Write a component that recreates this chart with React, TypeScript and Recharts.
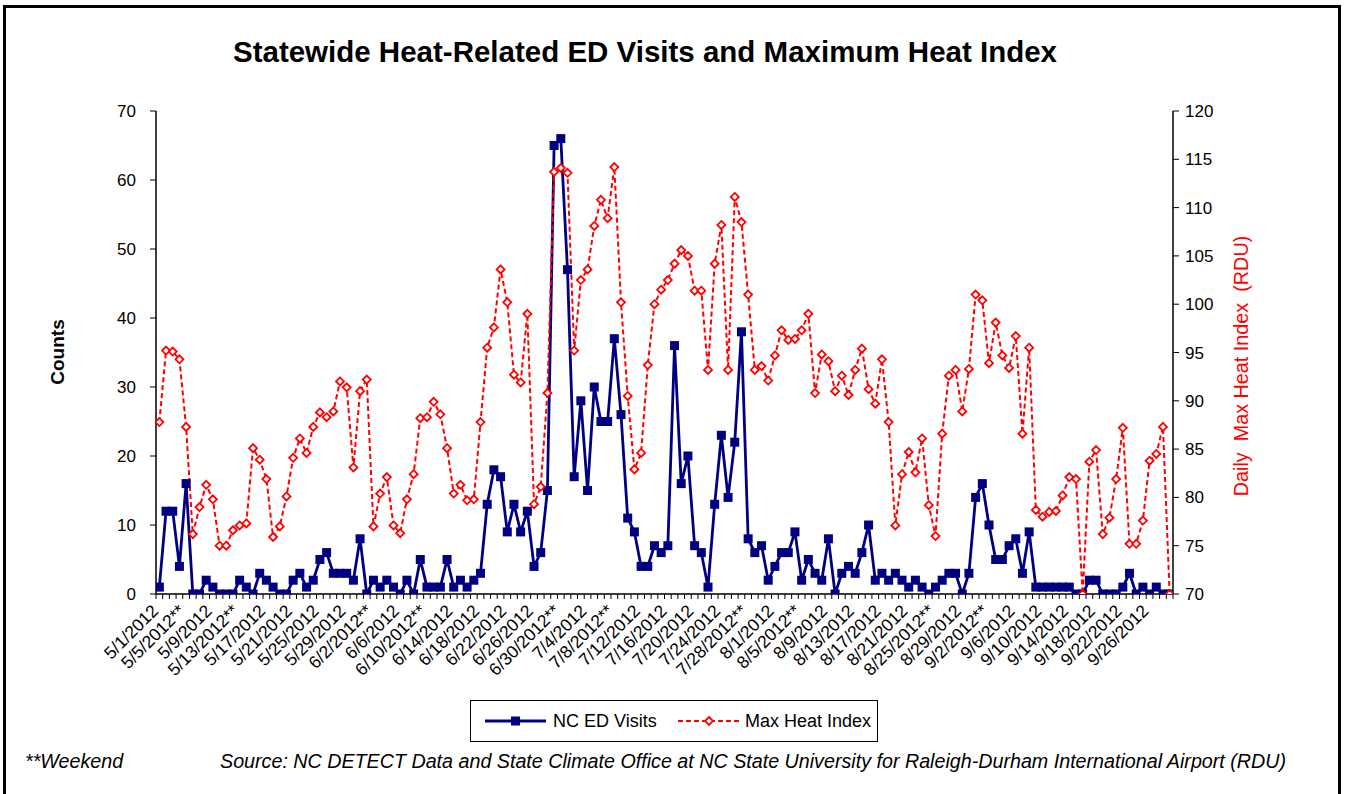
import React from "react";
import { LineChart, Line, XAxis, YAxis } from "recharts";

const categories: string[] = [
  "5/1/2012","5/2/2012","5/3/2012","5/4/2012","5/5/2012**","5/6/2012**","5/7/2012","5/8/2012","5/9/2012","5/10/2012",
  "5/11/2012","5/12/2012**","5/13/2012**","5/14/2012","5/15/2012","5/16/2012","5/17/2012","5/18/2012","5/19/2012**","5/20/2012**",
  "5/21/2012","5/22/2012","5/23/2012","5/24/2012","5/25/2012","5/26/2012**","5/27/2012**","5/28/2012","5/29/2012","5/30/2012",
  "5/31/2012","6/1/2012","6/2/2012**","6/3/2012**","6/4/2012","6/5/2012","6/6/2012","6/7/2012","6/8/2012","6/9/2012**",
  "6/10/2012**","6/11/2012","6/12/2012","6/13/2012","6/14/2012","6/15/2012","6/16/2012**","6/17/2012**","6/18/2012","6/19/2012",
  "6/20/2012","6/21/2012","6/22/2012","6/23/2012**","6/24/2012**","6/25/2012","6/26/2012","6/27/2012","6/28/2012","6/29/2012",
  "6/30/2012**","7/1/2012**","7/2/2012","7/3/2012","7/4/2012","7/5/2012","7/6/2012","7/7/2012**","7/8/2012**","7/9/2012",
  "7/10/2012","7/11/2012","7/12/2012","7/13/2012","7/14/2012**","7/15/2012**","7/16/2012","7/17/2012","7/18/2012","7/19/2012",
  "7/20/2012","7/21/2012**","7/22/2012**","7/23/2012","7/24/2012","7/25/2012","7/26/2012","7/27/2012","7/28/2012**","7/29/2012**",
  "7/30/2012","7/31/2012","8/1/2012","8/2/2012","8/3/2012","8/4/2012**","8/5/2012**","8/6/2012","8/7/2012","8/8/2012",
  "8/9/2012","8/10/2012","8/11/2012**","8/12/2012**","8/13/2012","8/14/2012","8/15/2012","8/16/2012","8/17/2012","8/18/2012**",
  "8/19/2012**","8/20/2012","8/21/2012","8/22/2012","8/23/2012","8/24/2012","8/25/2012**","8/26/2012**","8/27/2012","8/28/2012",
  "8/29/2012","8/30/2012","8/31/2012","9/1/2012**","9/2/2012**","9/3/2012","9/4/2012","9/5/2012","9/6/2012","9/7/2012",
  "9/8/2012**","9/9/2012**","9/10/2012","9/11/2012","9/12/2012","9/13/2012","9/14/2012","9/15/2012**","9/16/2012**","9/17/2012",
  "9/18/2012","9/19/2012","9/20/2012","9/21/2012","9/22/2012","9/23/2012","9/24/2012","9/25/2012","9/26/2012","9/27/2012",
  "9/28/2012","9/29/2012"
];

const edVisits: number[] = [
  1, 12, 12, 4, 16, 0, 0, 2, 1, 0,
  0, 0, 2, 1, 0, 3, 2, 1, 0, 0,
  2, 3, 1, 2, 5, 6, 3, 3, 3, 2,
  8, 0, 2, 1, 2, 1, 0, 2, 0, 5,
  1, 1, 1, 5, 1, 2, 1, 2, 3, 13,
  18, 17, 9, 13, 9, 12, 4, 6, 15, 65,
  66, 47, 17, 28, 15, 30, 25, 25, 37, 26,
  11, 9, 4, 4, 7, 6, 7, 36, 16, 20,
  7, 6, 1, 13, 23, 14, 22, 38, 8, 6,
  7, 2, 4, 6, 6, 9, 2, 5, 3, 2,
  8, 0, 3, 4, 3, 6, 10, 2, 3, 2,
  3, 2, 1, 2, 1, 0, 1, 2, 3, 3,
  0, 3, 14, 16, 10, 5, 5, 7, 8, 3,
  9, 1, 1, 1, 1, 1, 1, 0, 0, 2,
  2, 0, 0, 0, 1, 3, 0, 1, 0, 1,
  0, 0
];

const maxHeatIndex: number[] = [
  87.8, 95.2, 95.1, 94.3, 87.3, 76.2, 79.0, 81.3, 79.8, 75.0,
  75.0, 76.6, 77.1, 77.3, 85.1, 83.9, 81.9, 75.9, 77.0, 80.1,
  84.1, 86.1, 84.6, 87.3, 88.8, 88.3, 88.9, 92.0, 91.4, 83.1,
  91.0, 92.2, 77.0, 80.4, 82.1, 77.1, 76.3, 79.8, 82.4, 88.2,
  88.3, 89.9, 88.6, 85.1, 80.4, 81.3, 79.7, 79.8, 87.8, 95.5,
  97.6, 103.6, 100.2, 92.7, 91.9, 99.0, 79.3, 81.1, 90.8, 113.7,
  114.1, 113.6, 95.2, 102.5, 103.6, 108.1, 110.8, 108.9, 114.2, 100.2,
  90.5, 82.9, 84.6, 93.7, 100.0, 101.5, 102.5, 104.2, 105.6, 105.0,
  101.4, 101.4, 93.2, 104.2, 108.2, 93.2, 111.1, 108.5, 101.0, 93.2,
  93.6, 92.1, 94.7, 97.3, 96.3, 96.4, 97.3, 99.0, 90.8, 94.8,
  94.1, 91.0, 92.6, 90.6, 93.2, 95.4, 91.2, 89.7, 94.3, 87.8,
  77.1, 82.4, 84.7, 82.6, 86.1, 79.2, 76.0, 86.6, 92.6, 93.2,
  88.9, 93.3, 101.0, 100.4, 93.9, 98.1, 94.7, 93.4, 96.7, 86.6,
  95.5, 78.7, 78.0, 78.5, 78.6, 80.2, 82.1, 81.9, 70.0, 83.7,
  84.9, 76.2, 77.9, 81.9, 87.2, 75.2, 75.2, 77.6, 83.8, 84.5,
  87.3, 70.0
];

const countTicks: number[] = [0, 10, 20, 30, 40, 50, 60, 70];
const heatTicks: number[] = [70, 75, 80, 85, 90, 95, 100, 105, 110, 115, 120];
const labelEvery = 4;

const data = categories.map((date, idx) => ({
  idx,
  date,
  visits: edVisits[idx],
  heat: maxHeatIndex[idx],
}));
const indexTicks = categories.map((_, i) => i);

const FONT = '"Liberation Sans", Arial, Helvetica, sans-serif';
const NAVY = "#000080";
const RED = "#FF0000";

const PLOT_LEFT = 156;
const PLOT_RIGHT = 1173;
const PLOT_TOP = 111;
const PLOT_BOTTOM = 594;
const HALF_BAND = (PLOT_RIGHT - PLOT_LEFT) / categories.length / 2;

const SquareDot = (props: any) => {
  const { cx, cy } = props;
  if (cx == null || cy == null) return null;
  return <rect x={cx - 4.5} y={cy - 4.5} width={9} height={9} fill={NAVY} stroke="none" />;
};

const DiamondDot = (props: any) => {
  const { cx, cy } = props;
  if (cx == null || cy == null) return null;
  const r = 4;
  return (
    <path
      d={`M${cx},${cy - r} L${cx + r},${cy} L${cx},${cy + r} L${cx - r},${cy} Z`}
      fill="#fff"
      stroke={RED}
      strokeWidth={1.8}
    />
  );
};

const XTick = (props: any) => {
  const { x, y, payload } = props;
  const i = payload.value as number;
  const label = categories[i];
  const tx = x;
  const ty = y + 18;
  return (
    <g>
      <line x1={x - HALF_BAND} x2={x - HALF_BAND} y1={y} y2={y + 5} stroke="#000" strokeWidth={1} />
      {i === categories.length - 1 && (
        <line x1={x + HALF_BAND} x2={x + HALF_BAND} y1={y} y2={y + 5} stroke="#000" strokeWidth={1} />
      )}
      {i % labelEvery === 0 && (
        <text
          x={tx}
          y={ty}
          textAnchor="end"
          transform={`rotate(-45, ${tx}, ${ty})`}
          fontSize={17.5}
          fontFamily={FONT}
          fill="#000"
        >
          {label}
        </text>
      )}
    </g>
  );
};

export default function App() {
  return (
    <div
      style={{
        position: "absolute",
        left: 0,
        top: 0,
        width: 1346,
        height: 794,
        background: "#fff",
        overflow: "hidden",
        fontFamily: FONT,
      }}
    >
      <div
        style={{
          position: "absolute",
          left: 3,
          top: 5,
          width: 1332,
          height: 820,
          border: "3px solid #000",
        }}
      />
      <div
        style={{
          position: "absolute",
          left: 645,
          top: 52,
          transform: "translate(-50%, -50%)",
          fontSize: 29.5,
          fontWeight: "bold",
          whiteSpace: "nowrap",
          color: "#000",
        }}
      >
        Statewide Heat-Related ED Visits and Maximum Heat Index
      </div>
      <div
        style={{
          position: "absolute",
          left: 58,
          top: 352,
          transform: "translate(-50%, -50%) rotate(-90deg)",
          fontSize: 19,
          fontWeight: "bold",
          whiteSpace: "nowrap",
        }}
      >
        Counts
      </div>
      <div
        style={{
          position: "absolute",
          left: 1241,
          top: 366,
          transform: "translate(-50%, -50%) rotate(-90deg)",
          fontSize: 19.8,
          color: RED,
          whiteSpace: "pre",
        }}
      >
        {"Daily  Max Heat Index  (RDU)"}
      </div>

      <LineChart
        width={1346}
        height={794}
        data={data}
        margin={{ top: PLOT_TOP, right: 1346 - PLOT_RIGHT - 60, bottom: 794 - PLOT_BOTTOM - 90, left: PLOT_LEFT - 60 }}
        style={{ position: "absolute", left: 0, top: 0 }}
      >
        <XAxis
          dataKey="idx"
          type="number"
          domain={[-0.5, categories.length - 0.5]}
          ticks={indexTicks}
          interval={0}
          tickLine={false}
          tickSize={0}
          tickMargin={0}
          height={90}
          axisLine={{ stroke: "#000", strokeWidth: 1.5 }}
          tick={<XTick />}
          allowDataOverflow
        />
        <YAxis
          yAxisId="left"
          orientation="left"
          width={60}
          domain={[0, 70]}
          ticks={countTicks}
          interval={0}
          allowDataOverflow
          axisLine={{ stroke: "#000", strokeWidth: 1.5 }}
          tickLine={{ stroke: "#000" }}
          tickSize={6}
          tickMargin={14}
          tick={{ fontSize: 17, fill: "#000", fontFamily: FONT }}
        />
        <YAxis
          yAxisId="right"
          orientation="right"
          width={60}
          domain={[70, 120]}
          ticks={heatTicks}
          interval={0}
          allowDataOverflow
          axisLine={{ stroke: "#000", strokeWidth: 1.5 }}
          tickLine={{ stroke: "#000" }}
          tickSize={6}
          tickMargin={6}
          tick={{ fontSize: 17, fill: "#000", fontFamily: FONT, textAnchor: "start" }}
        />
        <Line
          yAxisId="left"
          dataKey="visits"
          type="linear"
          stroke={NAVY}
          strokeWidth={2.8}
          dot={<SquareDot />}
          activeDot={false}
          isAnimationActive={false}
        />
        <Line
          yAxisId="right"
          dataKey="heat"
          type="linear"
          stroke={RED}
          strokeWidth={2}
          strokeDasharray="5 3"
          dot={<DiamondDot />}
          activeDot={false}
          isAnimationActive={false}
        />
      </LineChart>

      <div
        style={{
          position: "absolute",
          left: 470,
          top: 700,
          width: 406,
          height: 40,
          border: "1.5px solid #000",
          background: "#fff",
        }}
      >
        <svg width={406} height={40} style={{ position: "absolute", left: 0, top: 0 }}>
          <line x1={14} x2={75} y1={20} y2={20} stroke={NAVY} strokeWidth={2.8} />
          <rect x={40} y={15.5} width={9} height={9} fill={NAVY} />
          <text x={82} y={26} fontSize={18} fontFamily={FONT} fill="#000">NC ED Visits</text>
          <line x1={207} x2={269} y1={20} y2={20} stroke={RED} strokeWidth={2} strokeDasharray="5 3" />
          <path d="M238,16 L242,20 L238,24 L234,20 Z" fill="#fff" stroke={RED} strokeWidth={1.8} />
          <text x={274} y={26} fontSize={18} fontFamily={FONT} fill="#000">Max Heat Index</text>
        </svg>
      </div>

      <div
        style={{
          position: "absolute",
          left: 25,
          top: 750,
          fontSize: 19.7,
          fontStyle: "italic",
          whiteSpace: "nowrap",
        }}
      >
        **Weekend
      </div>
      <div
        style={{
          position: "absolute",
          left: 220,
          top: 750,
          fontSize: 19.7,
          fontStyle: "italic",
          whiteSpace: "nowrap",
        }}
      >
        Source: NC DETECT Data and State Climate Office at NC State University for Raleigh-Durham International Airport (RDU)
      </div>
    </div>
  );
}
